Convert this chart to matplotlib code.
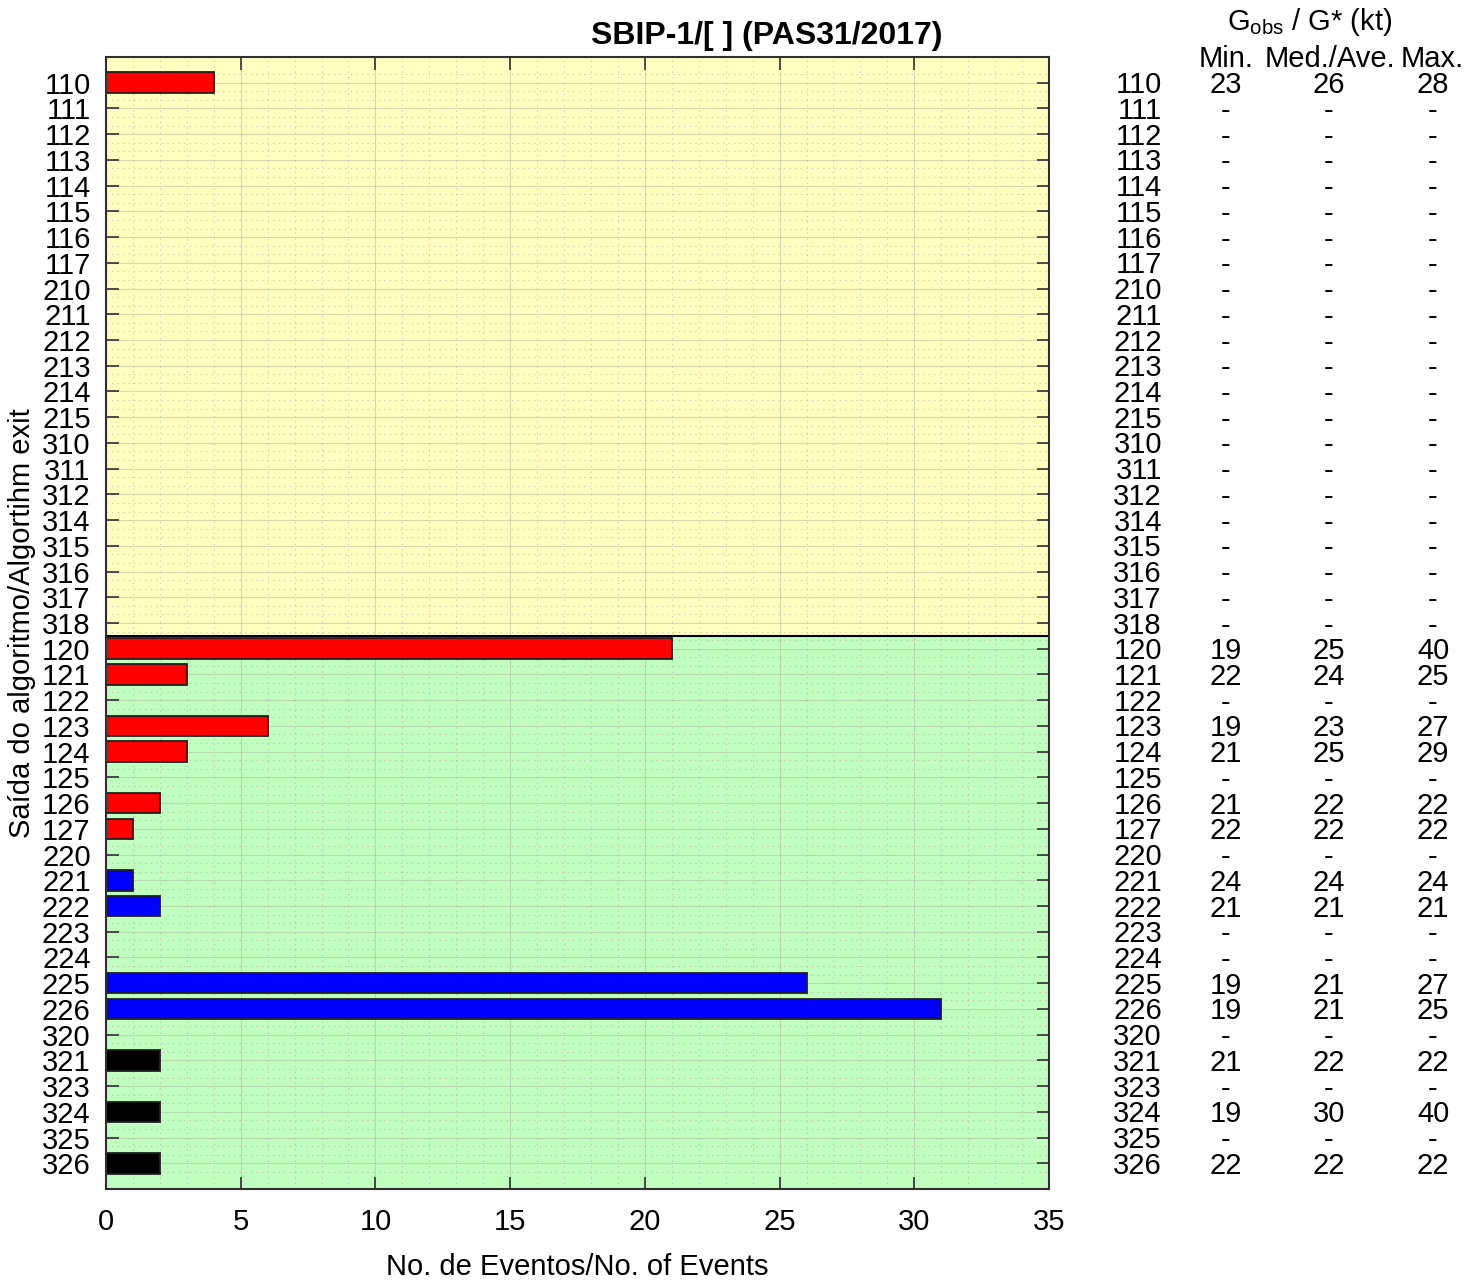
import matplotlib
matplotlib.use("Agg")
import matplotlib.pyplot as plt
import matplotlib.transforms as mtransforms
from matplotlib.ticker import MultipleLocator
import numpy as np

plt.rcParams['font.family'] = ['Liberation Sans', 'DejaVu Sans']
plt.rcParams['mathtext.fontset'] = 'custom'
plt.rcParams['mathtext.rm'] = 'Liberation Sans'
plt.rcParams['mathtext.it'] = 'Liberation Sans'

categories = ['110', '111', '112', '113', '114', '115', '116', '117',
              '210', '211', '212', '213', '214', '215',
              '310', '311', '312', '314', '315', '316', '317', '318',
              '120', '121', '122', '123', '124', '125', '126', '127',
              '220', '221', '222', '223', '224', '225', '226',
              '320', '321', '323', '324', '325', '326']
counts = [4, 0, 0, 0, 0, 0, 0, 0,
          0, 0, 0, 0, 0, 0,
          0, 0, 0, 0, 0, 0, 0, 0,
          21, 3, 0, 6, 3, 0, 2, 1,
          0, 1, 2, 0, 0, 26, 31,
          0, 2, 0, 2, 0, 2]
g_min = [23, None, None, None, None, None, None, None,
         None, None, None, None, None, None,
         None, None, None, None, None, None, None, None,
         19, 22, None, 19, 21, None, 21, 22,
         None, 24, 21, None, None, 19, 19,
         None, 21, None, 19, None, 22]
g_med = [26, None, None, None, None, None, None, None,
         None, None, None, None, None, None,
         None, None, None, None, None, None, None, None,
         25, 24, None, 23, 25, None, 22, 22,
         None, 24, 21, None, None, 21, 21,
         None, 22, None, 30, None, 22]
g_max = [28, None, None, None, None, None, None, None,
         None, None, None, None, None, None,
         None, None, None, None, None, None, None, None,
         40, 25, None, 27, 29, None, 22, 22,
         None, 24, 21, None, None, 27, 25,
         None, 22, None, 40, None, 22]
n_yellow = 22
x_ticks = [0, 5, 10, 15, 20, 25, 30, 35]

title = 'SBIP-1/[ ] (PAS31/2017)'
xlabel = 'No. de Eventos/No. of Events'
ylabel = 'Saída do algoritmo/Algortihm exit'

W, H = 1479, 1280
fig = plt.figure(figsize=(W / 100, H / 100), dpi=100)
ax = fig.add_axes([106 / W, 1 - 1189 / H, (1049 - 106) / W, (1189 - 57) / H])

n = len(categories)
ypos = np.arange(n)
ax.set_xlim(0, 35)
ax.set_ylim(n, -1)

# backgrounds
ax.axhspan(-1, n_yellow - 0.5, color='#ffffc0', zorder=0)
ax.axhspan(n_yellow - 0.5, n, color='#c0ffc0', zorder=0)
ax.axhline(n_yellow - 0.5, color='black', lw=1.5, zorder=3)

colors = [{'1': '#ff0000', '2': '#0000ff', '3': '#000000'}[c[0]] for c in categories]
ax.barh(ypos, counts, height=0.8, color=colors, edgecolor='#202020',
        linewidth=1.3, zorder=4)

ax.set_yticks(ypos)
ax.set_yticklabels(categories)
ax.set_xticks(x_ticks)
ax.xaxis.set_minor_locator(MultipleLocator(1))
ax.set_yticks(np.concatenate([ypos - 1/3, ypos + 1/3]), minor=True)

ax.grid(True, which='major', color='#a0a090', lw=0.8, alpha=0.4, zorder=1)
ax.grid(True, which='minor', color='#a0a090', lw=0.8, ls=(0, (1, 4)), alpha=0.6, zorder=1)

fs = 21
ax.tick_params(axis='both', which='major', direction='in', length=9, width=1.2,
               labelsize=fs, top=True, right=True, color='#303030')
ax.tick_params(axis='both', which='minor', length=0)
ax.tick_params(axis='x', pad=14)
ax.tick_params(axis='y', pad=11)
for s in ax.spines.values():
    s.set_linewidth(1.5)
    s.set_color('#303030')
    s.set_zorder(5)

ax.set_xlabel(xlabel, fontsize=fs, labelpad=12)
ax.set_ylabel(ylabel, fontsize=fs, labelpad=4)
fig.text(767 / W, 1 - 36 / H, title, fontsize=23, fontweight='bold',
         ha='center', va='center')

# right-side table
tr = mtransforms.blended_transform_factory(fig.transFigure, ax.transData)
for i, c in enumerate(categories):
    ax.text(1162 / W, i + 0.1, c, transform=tr, ha='right', va='center', fontsize=fs, clip_on=False)
    for xs, vals in ((1226, g_min), (1329, g_med), (1433, g_max)):
        v = vals[i]
        s = '-' if v is None else str(v)
        ax.text(xs / W, i + 0.1, s, transform=tr, ha='center', va='center', fontsize=fs, clip_on=False)

fig.text(1226 / W, 1 - 59 / H, 'Min.', fontsize=fs, ha='center', va='center')
fig.text(1330 / W, 1 - 59 / H, 'Med./Ave.', fontsize=fs, ha='center', va='center')
fig.text(1432 / W, 1 - 59 / H, 'Max.', fontsize=fs, ha='center', va='center')
fig.text(1310 / W, 1 - 22 / H, r'G$_{\mathrm{obs}}$ / G* (kt)', fontsize=fs, ha='center', va='center')

fig.savefig('out.png', dpi=100)
